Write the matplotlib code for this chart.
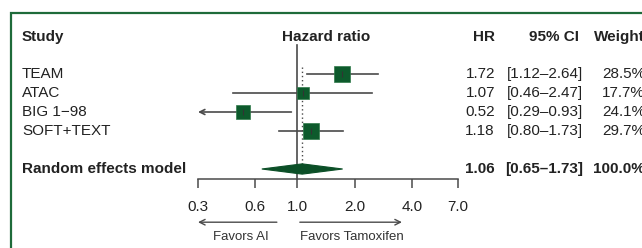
import numpy as np
import matplotlib
matplotlib.use("Agg")
import matplotlib.pyplot as plt
import matplotlib.transforms as mtransforms
from matplotlib.patches import Polygon, Rectangle

plt.rcParams['font.family'] = ['Liberation Sans', 'DejaVu Sans']

# ------------------------------------------------------------------
# data
# ------------------------------------------------------------------
studies = ["TEAM", "ATAC", "BIG 1\u221298", "SOFT+TEXT"]
hr = [1.72, 1.07, 0.52, 1.18]
ci_lo = [1.12, 0.46, 0.29, 0.80]
ci_hi = [2.64, 2.47, 0.93, 1.73]
weights = [28.5, 17.7, 24.1, 29.7]

pooled_hr = 1.06
pooled_lo = 0.65
pooled_hi = 1.73

tick_vals = [0.3, 0.6, 1.0, 2.0, 4.0, 7.0]
tick_labels = ["0.3", "0.6", "1.0", "2.0", "4.0", "7.0"]

# ------------------------------------------------------------------
# set-up
# ------------------------------------------------------------------
W, H = 642, 248
green = "#0d5a2c"
line_col = "#4a4a4a"
fs = 11

fig = plt.figure(figsize=(W / 100, H / 100), dpi=100)

# frame around the whole plot (runs off the right and bottom edges)
fig.patches.append(Rectangle((11 / W, -0.05), 1.1, 1 - 13 / H + 0.05,
                             transform=fig.transFigure, fill=False,
                             edgecolor="#1e6b3a", linewidth=1.6))

# axes: x covers the forest plot, y in row units over the full height
x0, x1 = 198, 458
ax = fig.add_axes([x0 / W, 0, (x1 - x0) / W, 1])
ax.set_xscale("log")
ax.set_xlim(0.3, 7.0)
row_px = 19.0
top_row = (0 - 74) / row_px + 1
bot_row = (H - 74) / row_px + 1
ax.set_ylim(bot_row, top_row)
ax.patch.set_visible(False)

for s in ["top", "left", "right"]:
    ax.spines[s].set_visible(False)
axis_row = 6.5
ax.spines["bottom"].set_position(("data", axis_row))
ax.spines["bottom"].set_color(line_col)
ax.spines["bottom"].set_linewidth(1.1)
ax.set_xticks(tick_vals)
ax.set_xticklabels(tick_labels)
ax.xaxis.set_minor_locator(matplotlib.ticker.NullLocator())
ax.tick_params(axis="x", direction="out", length=6.5, width=1.1,
               color=line_col, labelsize=fs, pad=9, labelcolor="#222222")
ax.set_yticks([])

rows = np.arange(1, len(studies) + 1)

# reference lines
ax.plot([1.0, 1.0], [-0.53, axis_row], color=line_col, lw=1.2, zorder=1)
ax.plot([pooled_hr, pooled_hr], [0.63, 5.8], color=line_col, lw=1.0,
        ls=(0, (1, 2)), zorder=1)

# confidence intervals
for r, lo, hi in zip(rows, ci_lo, ci_hi):
    if lo < 0.3:
        ax.annotate("", xy=(0.3, r), xytext=(hi, r),
                    arrowprops=dict(arrowstyle="->", color=line_col, lw=1.2,
                                    shrinkA=0, shrinkB=0,
                                    mutation_scale=9))
    else:
        ax.plot([lo, hi], [r, r], color=line_col, lw=1.2, zorder=2)

# squares sized by weight
sizes = [2.05 * np.sqrt(w) for w in weights]
for r, h, m in zip(rows, hr, sizes):
    ax.plot(h, r, marker="s", markersize=m, color=green,
            markeredgecolor="#2f7a4a", markeredgewidth=0.5, zorder=3)
    ax.plot(h, r, marker="|", markersize=5, color="#333333",
            markeredgewidth=0.8, zorder=4)

# pooled diamond
pool_row = 6
dh = 0.27
ax.add_patch(Polygon([(pooled_lo, pool_row), (pooled_hr, pool_row - dh),
                      (pooled_hi, pool_row), (pooled_hr, pool_row + dh)],
                     closed=True, facecolor="#0b4f27", edgecolor="#0b4f27",
                     lw=0.8, zorder=3))

# favors arrows
arrow_row = 8.8
ax.annotate("", xy=(0.3, arrow_row), xytext=(0.78, arrow_row),
            arrowprops=dict(arrowstyle="->", color=line_col, lw=1.0,
                            shrinkA=0, shrinkB=0, mutation_scale=10),
            annotation_clip=False)
ax.annotate("", xy=(3.55, arrow_row), xytext=(1.03, arrow_row),
            arrowprops=dict(arrowstyle="->", color=line_col, lw=1.0,
                            shrinkA=0, shrinkB=0, mutation_scale=10),
            annotation_clip=False)
ax.text(0.505, 9.6, "Favors AI", ha="center", va="center", fontsize=9.5,
        color="#333333")
ax.text(1.94, 9.6, "Favors Tamoxifen", ha="center", va="center",
        fontsize=9.5, color="#333333")

# ------------------------------------------------------------------
# text columns
# ------------------------------------------------------------------
tr = mtransforms.blended_transform_factory(fig.transFigure, ax.transData)
head_row = -0.95
txt = "#222222"

fig.text(22 / W, head_row, "Study", transform=tr, ha="left", va="center",
         fontsize=fs, fontweight="bold", color=txt)
fig.text(326 / W, head_row, "Hazard ratio", transform=tr, ha="center",
         va="center", fontsize=fs, fontweight="bold", color=txt)
fig.text(495 / W, head_row, "HR", transform=tr, ha="right", va="center",
         fontsize=fs, fontweight="bold", color=txt)
fig.text(579 / W, head_row, "95% CI", transform=tr, ha="right", va="center",
         fontsize=fs, fontweight="bold", color=txt)
fig.text(645 / W, head_row, "Weight", transform=tr, ha="right", va="center",
         fontsize=fs, fontweight="bold", color=txt)

for r, name, h, lo, hi, w in zip(rows, studies, hr, ci_lo, ci_hi, weights):
    fig.text(22 / W, r, name, transform=tr, ha="left", va="center",
             fontsize=fs, color=txt)
    fig.text(495 / W, r, "%.2f" % h, transform=tr, ha="right", va="center",
             fontsize=fs, color=txt)
    fig.text(583 / W, r, "[%.2f\u2013%.2f]" % (lo, hi), transform=tr,
             ha="right", va="center", fontsize=fs, color=txt)
    fig.text(645 / W, r, "%.1f%%" % w, transform=tr, ha="right",
             va="center", fontsize=fs, color=txt)

fig.text(22 / W, pool_row, "Random effects model", transform=tr, ha="left",
         va="center", fontsize=fs, fontweight="bold", color=txt)
fig.text(495 / W, pool_row, "%.2f" % pooled_hr, transform=tr, ha="right",
         va="center", fontsize=fs, fontweight="bold", color=txt)
fig.text(583 / W, pool_row, "[%.2f\u2013%.2f]" % (pooled_lo, pooled_hi),
         transform=tr, ha="right", va="center", fontsize=fs,
         fontweight="bold", color=txt)
fig.text(645 / W, pool_row, "%.1f%%" % sum(weights), transform=tr,
         ha="right", va="center", fontsize=fs, fontweight="bold", color=txt)

fig.savefig("out.png", dpi=100)
